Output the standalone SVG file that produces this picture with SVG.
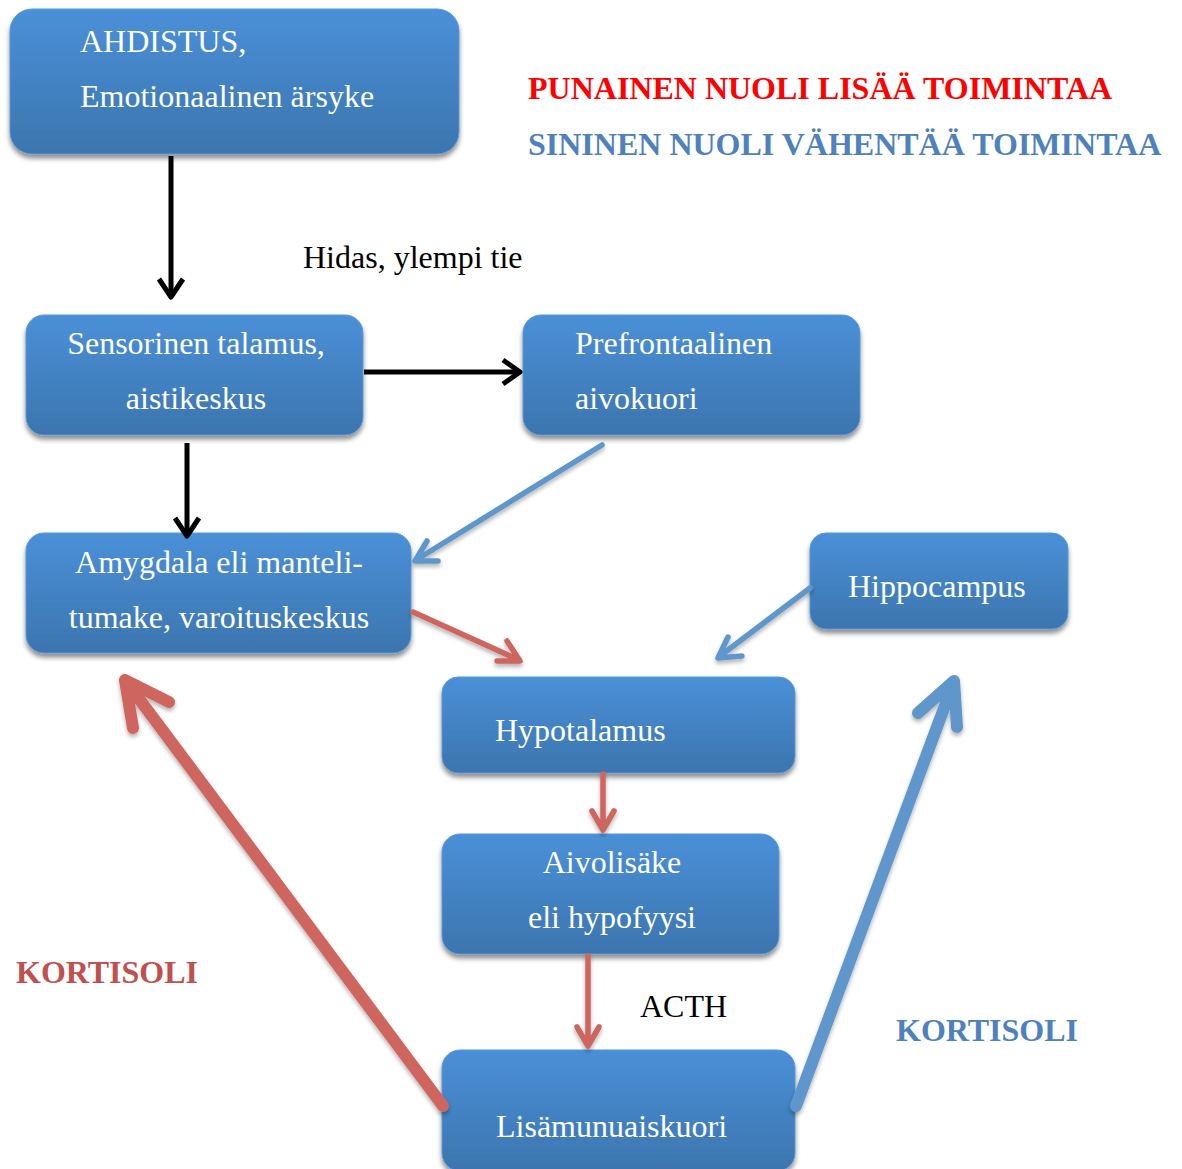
<svg xmlns="http://www.w3.org/2000/svg" width="1182" height="1169" viewBox="0 0 1182 1169">
  <defs>
    <linearGradient id="boxFill" x1="0" y1="0" x2="0" y2="1">
      <stop offset="0" stop-color="#4a90d8"/>
      <stop offset="1" stop-color="#3c75ae"/>
    </linearGradient>
    <filter id="shadow" x="-10%" y="-10%" width="120%" height="130%">
      <feGaussianBlur in="SourceAlpha" stdDeviation="2.5"/>
      <feOffset dx="0" dy="4" result="b"/>
      <feComponentTransfer><feFuncA type="linear" slope="0.45"/></feComponentTransfer>
      <feMerge><feMergeNode/><feMergeNode in="SourceGraphic"/></feMerge>
    </filter>
    <filter id="lineShadow" x="-20%" y="-20%" width="140%" height="140%">
      <feGaussianBlur in="SourceAlpha" stdDeviation="2"/>
      <feOffset dx="0" dy="3" result="b"/>
      <feComponentTransfer><feFuncA type="linear" slope="0.3"/></feComponentTransfer>
      <feMerge><feMergeNode/><feMergeNode in="SourceGraphic"/></feMerge>
    </filter>
  </defs>
  <style>
    .box { fill: url(#boxFill); stroke: #5a98d6; stroke-width: 1; filter: url(#shadow); }
    .lbl { font-family: "Liberation Serif", "Times New Roman", serif; font-size: 32px; fill: #ffffff; }
    .mid { text-anchor: middle; }
    .txt { font-family: "Liberation Serif", "Times New Roman", serif; font-size: 32px; }
    .bold { font-weight: bold; }
    .blk { fill: none; stroke: #000000; stroke-width: 5; stroke-linecap: butt; stroke-linejoin: round; }
    .red { fill: none; stroke: #cf655e; stroke-width: 5.5; stroke-linecap: round; stroke-linejoin: round; filter: url(#lineShadow); }
    .blu { fill: none; stroke: #5f97cc; stroke-width: 5.5; stroke-linecap: round; stroke-linejoin: round; filter: url(#lineShadow); }
    .thick { stroke-width: 12; }
  </style>

  <!-- legend and free labels -->
  <text class="txt bold" x="528" y="99" fill="#ff0000">PUNAINEN NUOLI LISÄÄ TOIMINTAA</text>
  <text class="txt bold" x="528" y="155" fill="#4f81bd">SININEN NUOLI VÄHENTÄÄ TOIMINTAA</text>
  <text class="txt" x="303" y="268" fill="#000000">Hidas, ylempi tie</text>
  <text class="txt bold" x="16" y="983" fill="#c0504d">KORTISOLI</text>
  <text class="txt" x="640" y="1017" fill="#000000">ACTH</text>
  <text class="txt bold" x="896" y="1041" fill="#4f81bd">KORTISOLI</text>

  <!-- nodes -->
  <g id="n-stimulus">
    <rect class="box" x="10" y="9" width="449" height="145" rx="22"/>
    <text class="lbl" x="80" y="52">AHDISTUS,</text>
    <text class="lbl" x="80" y="107">Emotionaalinen ärsyke</text>
  </g>
  <g id="n-thalamus">
    <rect class="box" x="26" y="315" width="337" height="120" rx="18"/>
    <text class="lbl mid" x="196" y="354">Sensorinen talamus,</text>
    <text class="lbl mid" x="196" y="409">aistikeskus</text>
  </g>
  <g id="n-prefrontal">
    <rect class="box" x="523" y="315" width="337" height="120" rx="18"/>
    <text class="lbl" x="575" y="354">Prefrontaalinen</text>
    <text class="lbl" x="575" y="409">aivokuori</text>
  </g>
  <g id="n-amygdala">
    <rect class="box" x="26" y="533" width="385" height="120" rx="18"/>
    <text class="lbl mid" x="219" y="573">Amygdala eli manteli-</text>
    <text class="lbl mid" x="219" y="628">tumake, varoituskeskus</text>
  </g>
  <g id="n-hippocampus">
    <rect class="box" x="810" y="533" width="258" height="96" rx="16"/>
    <text class="lbl" x="848" y="597">Hippocampus</text>
  </g>
  <g id="n-hypothalamus">
    <rect class="box" x="442" y="677" width="353" height="96" rx="16"/>
    <text class="lbl" x="495" y="741">Hypotalamus</text>
  </g>
  <g id="n-pituitary">
    <rect class="box" x="442" y="834" width="337" height="120" rx="18"/>
    <text class="lbl mid" x="612" y="873">Aivolisäke</text>
    <text class="lbl mid" x="612" y="928">eli hypofyysi</text>
  </g>
  <g id="n-adrenal">
    <rect class="box" x="442" y="1050" width="353" height="121" rx="18"/>
    <text class="lbl" x="496" y="1137">Lisämunuaiskuori</text>
  </g>

  <!-- connectors, drawn above the boxes so the tips show -->
  <g id="connectors">
    <!-- stimulus to thalamus -->
    <path class="blk" d="M171 156 V296"/>
    <path class="blk" d="M159 279 L171 297 L183 279"/>
    <!-- thalamus to prefrontal cortex -->
    <path class="blk" d="M364 372 H519"/>
    <path class="blk" d="M503 360 L520 372 L503 384"/>
    <!-- thalamus to amygdala -->
    <path class="blk" d="M187 443 V535"/>
    <path class="blk" d="M175 518 L187 536 L199 518"/>
    <!-- prefrontal cortex inhibits amygdala -->
    <path class="blu" d="M602 445 L416 560 M427 541 L415 561 L438 561"/>
    <!-- amygdala activates hypothalamus -->
    <path class="red" d="M413 612 L519 660 M507 641 L520 661 L497 661"/>
    <!-- hippocampus inhibits hypothalamus -->
    <path class="blu" d="M810 588 L720 656 M728 637 L718 658 L742 656"/>
    <!-- hypothalamus to pituitary -->
    <path class="red" d="M603 774 V829 M592 811 L603 830 L614 811"/>
    <!-- pituitary to adrenal cortex (ACTH) -->
    <path class="red" d="M588 956 V1045 M577 1027 L588 1046 L599 1027"/>
    <!-- cortisol feedback to amygdala -->
    <path class="red thick" d="M443 1106 L128 684 M133 728 L125 680 L169 702"/>
    <!-- cortisol feedback to hippocampus -->
    <path class="blu thick" d="M796 1106 L953 684 M918 713 L954 681 L957 727"/>
  </g>
</svg>
